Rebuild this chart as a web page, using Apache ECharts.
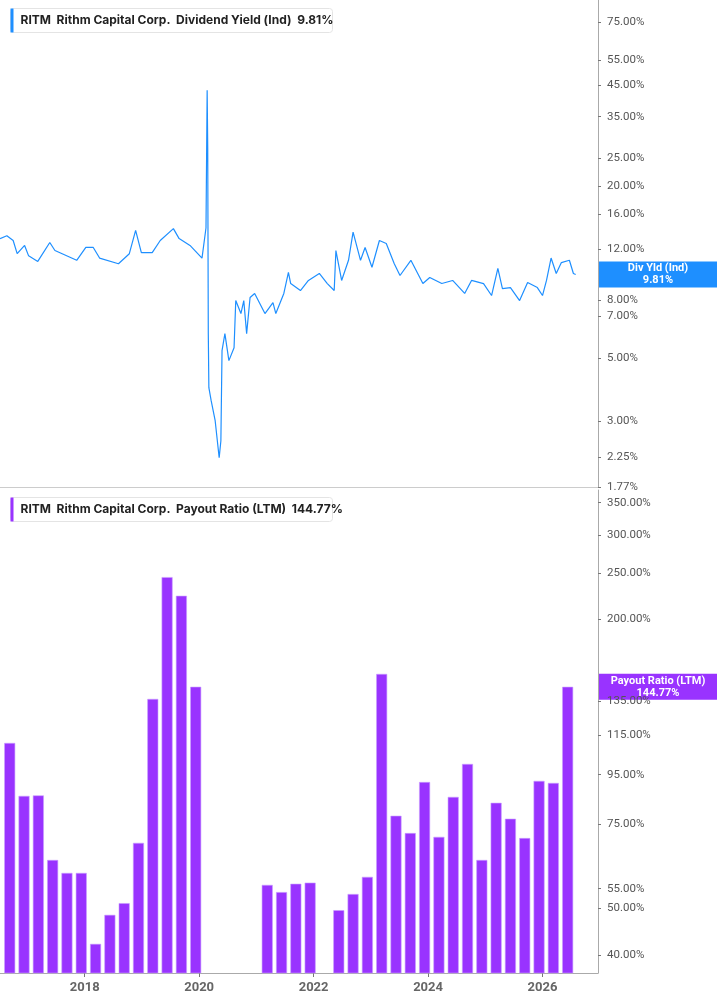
<!DOCTYPE html>
<html><head><meta charset="utf-8">
<script src="https://cdn.jsdelivr.net/npm/echarts@6/dist/echarts.min.js"></script>
<style>html,body{margin:0;padding:0;background:#fff}#c{width:717px;height:1005px}</style>
</head><body><div id="c"></div>
<script>
// Dividend yield (%), dates as fractional years
const yieldDates = [2016.52,2016.64,2016.75,2016.82,2016.95,2017.02,2017.18,2017.39,2017.48,2017.86,2018.02,2018.15,2018.26,2018.59,2018.78,2018.89,2018.99,2019.18,2019.32,2019.55,2019.65,2019.84,2020.05,2020.12,2020.14,2020.15,2020.16,2020.17,2020.21,2020.28,2020.35,2020.38,2020.40,2020.45,2020.52,2020.61,2020.64,2020.73,2020.78,2020.83,2020.89,2020.97,2021.15,2021.29,2021.34,2021.48,2021.56,2021.60,2021.77,2021.91,2022.10,2022.24,2022.36,2022.39,2022.49,2022.61,2022.69,2022.82,2022.90,2023.02,2023.15,2023.27,2023.41,2023.51,2023.70,2023.91,2024.03,2024.24,2024.43,2024.64,2024.76,2024.97,2025.11,2025.22,2025.30,2025.44,2025.60,2025.74,2025.91,2026.00,2026.07,2026.15,2026.24,2026.33,2026.47,2026.54,2026.58];
const yieldValues = [13.1,13.4,12.9,11.6,12.4,11.4,10.9,12.7,11.9,11.0,12.2,12.2,11.2,10.7,11.6,14.0,11.7,11.7,12.9,14.2,13.1,12.4,11.2,14.3,43.3,27.3,6.09,3.94,3.55,3.02,2.24,2.57,5.31,6.09,4.90,5.44,7.95,7.16,7.95,6.09,8.15,8.42,7.16,7.82,7.16,8.42,9.97,9.12,8.62,9.35,9.89,9.12,8.62,11.9,9.35,11.0,13.8,11.0,12.2,10.4,12.9,12.6,10.7,9.73,11.0,9.12,9.57,9.12,9.35,8.42,9.35,9.12,8.28,10.3,8.76,8.83,7.95,9.20,8.83,8.28,9.35,11.2,9.89,10.8,11.0,9.89,9.81];
// Payout ratio (LTM, %), quarterly
const payoutDates = [2016.69,2016.94,2017.19,2017.44,2017.69,2017.94,2018.19,2018.44,2018.69,2018.94,2019.19,2019.44,2019.69,2019.94,
  2021.19,2021.44,2021.69,2021.94,
  2022.44,2022.69,2022.94,2023.19,2023.44,2023.69,2023.94,2024.19,2024.44,2024.69,2024.94,2025.19,2025.44,2025.69,2025.94,2026.19,2026.44];
const payoutValues = [110.6,85.8,86.0,63.1,59.3,59.3,42.2,48.5,51.3,68.5,136.6,245,224,144.8,
  56.0,54.1,56.3,56.6,
  49.6,53.6,58.2,154,78.0,71.8,91.7,70.5,85.4,100,63.1,83.0,76.9,70.1,92.2,91.3,144.77];
const yieldTicks = [1.77,2.25,3,5,7,8,12,16,20,25,35,45,55,75];
const payoutTicks = [40,50,55,75,95,115,135,200,250,300,350];
const xTicks = [2018,2020,2022,2024,2026];

const L=Math.log;
const chart=echarts.init(document.getElementById('c'));
const xMin=2016.52, xMax=2026.97;
const gridR=119;
const lblStyle={color:'#555',fontSize:11.5,fontFamily:'Roboto'};
function yAxis(i,ticks,min,max){return{gridIndex:i,type:'value',position:'right',min:L(min),max:L(max),
  axisLine:{show:true,lineStyle:{color:'#aaa'}},splitLine:{show:false},
  axisTick:{show:true,customValues:ticks.map(L),length:3,lineStyle:{color:'#777'}},
  axisLabel:Object.assign({customValues:ticks.map(L),margin:9,formatter:v=>Math.exp(v).toFixed(2)+'%'},lblStyle)};}
const opt={
  animation:false,
  grid:[{left:0,right:gridR,top:0,height:487},{left:0,right:gridR,top:490,height:483}],
  xAxis:[{gridIndex:0,type:'value',min:xMin,max:xMax,axisLine:{show:true,onZero:false,lineStyle:{color:'#ccc'}},axisTick:{show:false},axisLabel:{show:false},splitLine:{show:false}},
    {gridIndex:1,type:'value',min:xMin,max:xMax,axisLine:{show:true,onZero:false,lineStyle:{color:'#aaa'}},
      axisTick:{show:true,customValues:xTicks,length:4,lineStyle:{color:'#777'}},
      axisLabel:{customValues:xTicks,formatter:v=>String(Math.round(v)),color:'#666',fontWeight:'bold',fontSize:13,fontFamily:'Roboto',margin:8},splitLine:{show:false}}],
  yAxis:[yAxis(0,yieldTicks,1.77,89.6),yAxis(1,payoutTicks,36.7,372)],
  series:[
    {type:'line',xAxisIndex:0,yAxisIndex:0,showSymbol:false,data:yieldDates.map((d,i)=>[d,L(yieldValues[i])]),lineStyle:{color:'#1e8fff',width:1.2}},
    {type:'bar',xAxisIndex:1,yAxisIndex:1,barWidth:11,data:payoutDates.map((d,i)=>[d,L(payoutValues[i])]),
      itemStyle:{color:'#9933ff',borderColor:'#c9a0ff',borderWidth:0.6}}
  ]
};
chart.setOption(opt);
function header(y,color,label,val){return{type:'group',left:10,top:y,children:[
  {type:'rect',shape:{x:0,y:0,width:322,height:24,r:3},style:{fill:'#fff',stroke:'#e4e4e4',lineWidth:1}},
  {type:'rect',shape:{x:0,y:0,width:3,height:24},style:{fill:color}},
  {type:'text',x:10,y:12,style:{text:'RITM  Rithm Capital Corp.  '+label+'  '+val,fill:'#222',font:'bold 12px Inter, Roboto',verticalAlign:'middle'}}]};}
const last=yieldDates.length-1;
const py1=chart.convertToPixel({xAxisIndex:0,yAxisIndex:0},[xMax,L(yieldValues[last])])[1];
const py2=chart.convertToPixel({xAxisIndex:1,yAxisIndex:1},[xMax,L(payoutValues[payoutValues.length-1])])[1];
function tag(y,color,t1,t2){return{type:'group',left:599,top:y-13,children:[
  {type:'rect',shape:{x:0,y:0,width:118,height:26},style:{fill:color}},
  {type:'text',x:59,y:7,style:{text:t1,fill:'#fff',font:'bold 11px Roboto',align:'center',verticalAlign:'middle'}},
  {type:'text',x:59,y:19,style:{text:t2,fill:'#fff',font:'bold 11px Roboto',align:'center',verticalAlign:'middle'}}]};}
chart.setOption({graphic:[header(8,'#1e8fff','Dividend Yield (Ind)','9.81%'),header(497,'#9933ff','Payout Ratio (LTM)','144.77%'),
  tag(py1,'#1e8fff','Div Yld (Ind)','9.81%'),tag(py2,'#9933ff','Payout Ratio (LTM)','144.77%')]});
</script></body></html>
